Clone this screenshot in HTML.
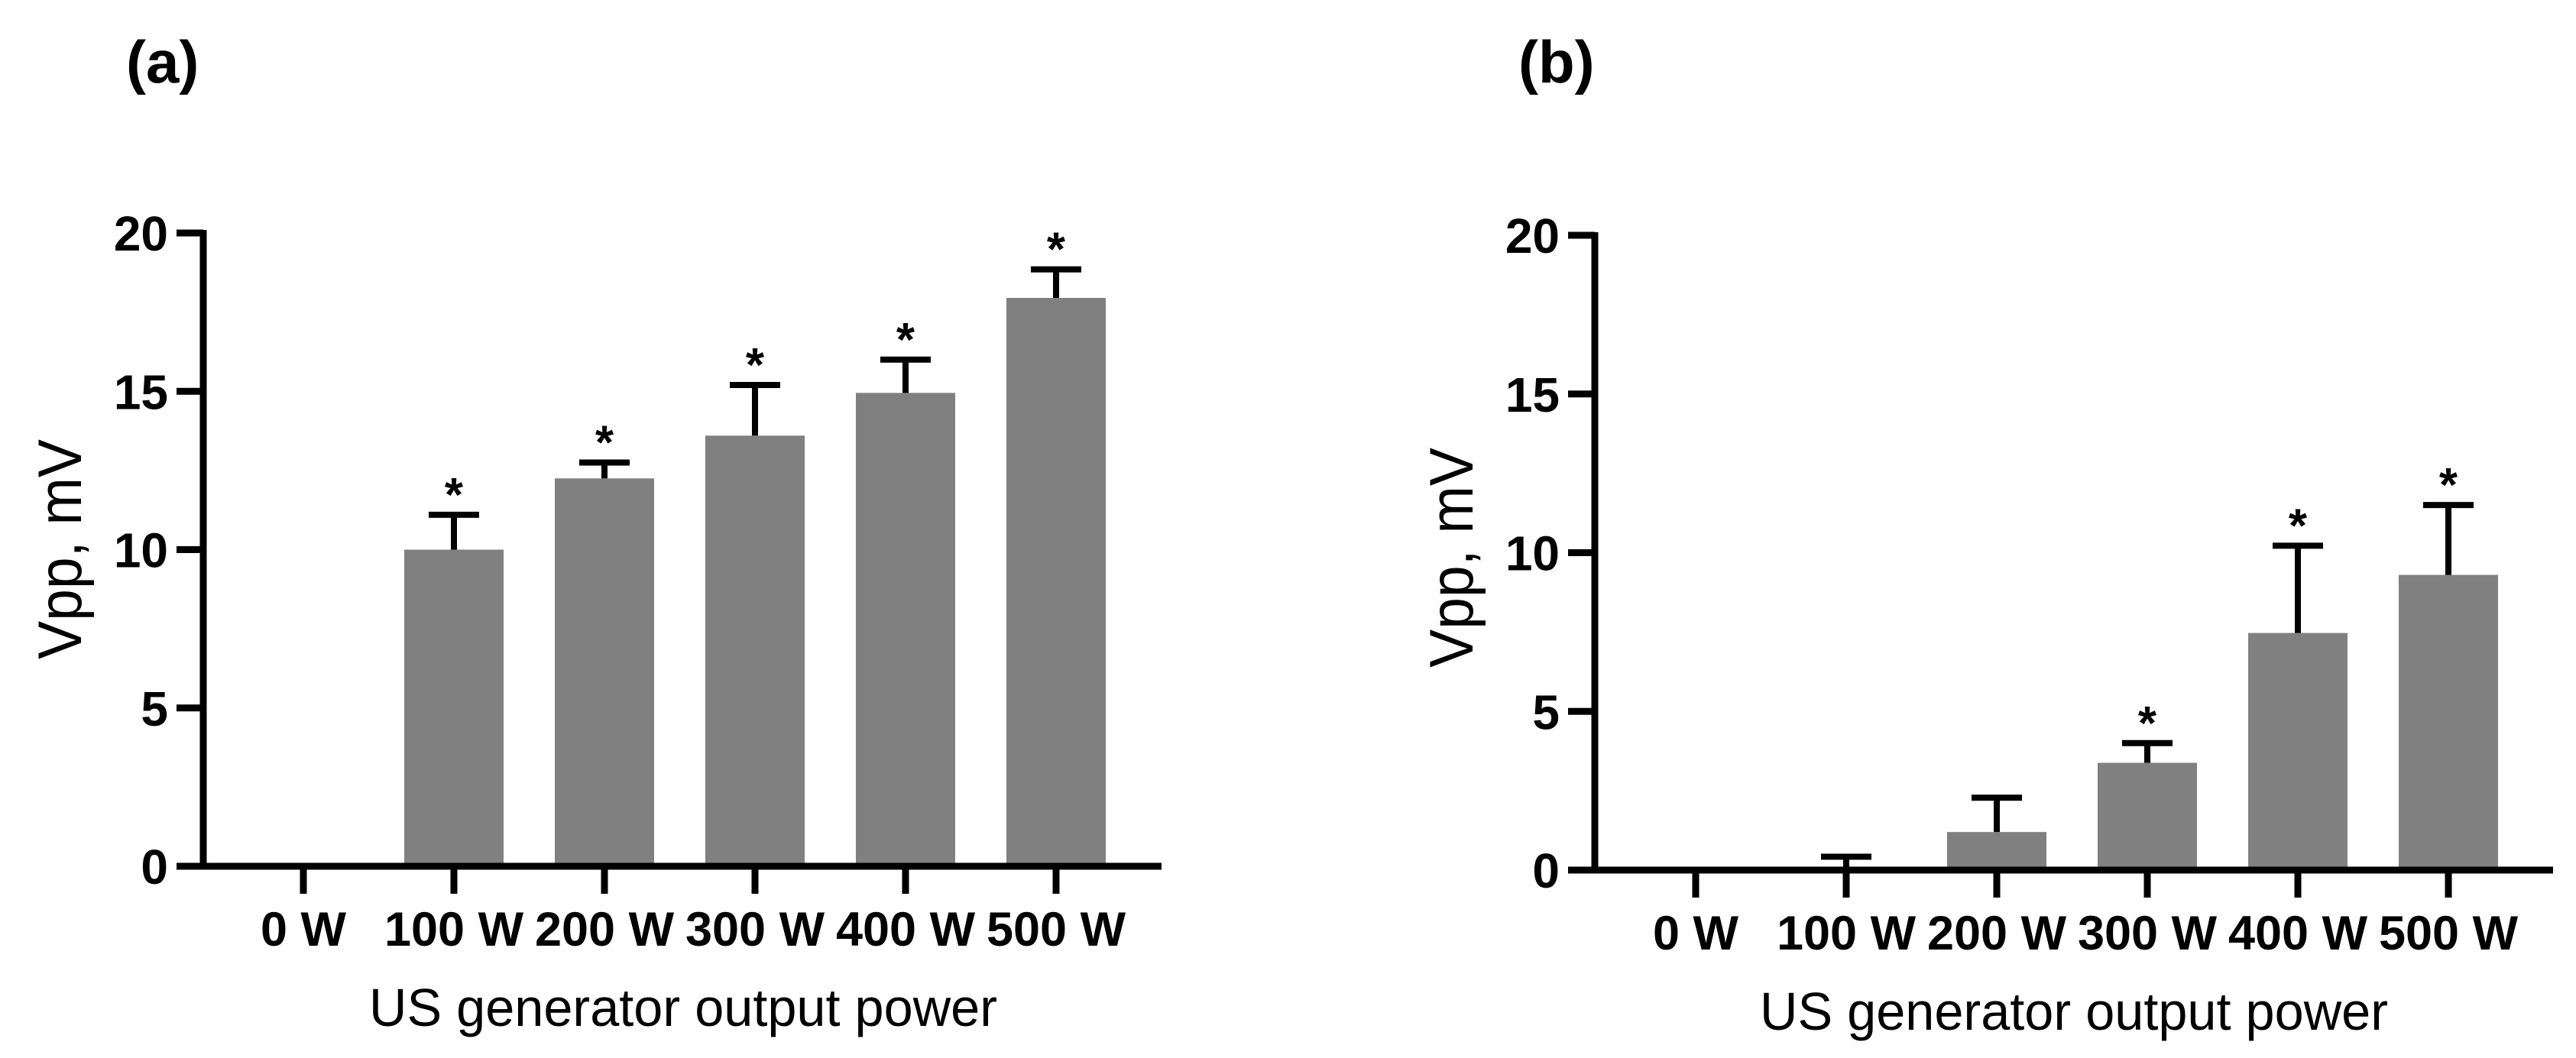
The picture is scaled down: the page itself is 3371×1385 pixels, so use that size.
<!DOCTYPE html>
<html><head><meta charset="utf-8"><style>
html,body{margin:0;padding:0;background:#fff;}
svg{display:block;font-family:"Liberation Sans",Arial,sans-serif;}
</style></head><body>
<svg id="fig" width="3371" height="1385" viewBox="0 0 3371 1385" xmlns="http://www.w3.org/2000/svg"></svg>
<script>
const categories = ["0 W","100 W","200 W","300 W","400 W","500 W"];
const yTicks = [0,5,10,15,20];
const meansA = [0,10.0,12.25,13.6,14.95,17.95];
const errA   = [0,1.1,0.5,1.6,1.05,0.9];
const sigA   = [false,true,true,true,true,true];
const meansB = [0,0,1.2,3.38,7.47,9.3];
const errB   = [0,0.42,1.08,0.62,2.75,2.2];
const sigB   = [false,false,false,true,true,true];

const NS="http://www.w3.org/2000/svg";
const svg=document.getElementById('fig');
function mk(tag,attrs,parent){const e=document.createElementNS(NS,tag);for(const k in attrs)e.setAttribute(k,attrs[k]);(parent||svg).appendChild(e);return e;}

function panel(cfg){
  const g=mk('g',{});
  
  
  const y=v=>cfg.y0-(v/20)*(cfg.y0-cfg.y20);
  const x=i=>cfg.x0+i*197;
  const lab=mk('text',{x:cfg.labelX,y:108,'font-size':78,'font-weight':'bold',fill:'#000'},g);
  lab.textContent=cfg.label;
  
  
  cfg.means.forEach((m,i)=>{
    if(m>0){
      const r=mk('rect',{x:x(i)-65,y:y(m),width:130,height:cfg.y0-y(m),fill:'#808080'},g);
      
      
    }
    const top=m+cfg.err[i];
    if(cfg.err[i]>0){
      const eb=mk('path',{d:`M${x(i)} ${y(m)} V${y(top)} M${x(i)-33} ${y(top)} H${x(i)+33}`,stroke:'#000','stroke-width':8,fill:'none'},g);
      
      
    }
    if(cfg.sig[i]){
      const s=mk('text',{x:x(i),y:y(top)-5,'font-size':62,'font-weight':'bold','text-anchor':'middle',fill:'#000'},g);
      s.textContent='*';
      
      
    }
  });
  const ya=mk('path',{d:`M${cfg.ax} ${cfg.y20-4} V${cfg.y0+4}`,stroke:'#000','stroke-width':9,fill:'none'},g);
  
  
  const xa=mk('path',{d:`M${cfg.ax-35} ${cfg.y0} H${cfg.xEnd}`,stroke:'#000','stroke-width':9,fill:'none'},g);
  
  
  yTicks.forEach(t=>{
    mk('path',{d:`M${cfg.ax-35} ${y(t)} H${cfg.ax}`,stroke:'#000','stroke-width':9},g);
    const tl=mk('text',{x:cfg.ax-46,y:y(t)+23,'font-size':64,'font-weight':'bold','text-anchor':'end',fill:'#000'},g);
    tl.textContent=t;
    
    
  });
  categories.forEach((c,i)=>{
    mk('path',{d:`M${x(i)} ${cfg.y0} V${cfg.y0+36}`,stroke:'#000','stroke-width':9},g);
    const tl=mk('text',{x:x(i),y:cfg.y0+104,'font-size':63,'font-weight':'bold','text-anchor':'middle',fill:'#000'},g);
    tl.textContent=c;
    
    
  });
  const xt=mk('text',{x:cfg.xTitleX,y:cfg.y0+209,'font-size':70,fill:'#000',textLength:822,lengthAdjust:'spacingAndGlyphs'},g);
  xt.textContent='US generator output power';
  
  
  const yt=mk('text',{x:0,y:0,'font-size':81,fill:'#000','text-anchor':'middle',textLength:288,lengthAdjust:'spacingAndGlyphs',transform:`translate(${cfg.ax-160},${cfg.yTitleY}) rotate(-90)`},g);
  yt.textContent='Vpp, mV';
  
  
}
panel({name:'panel-a',label:'(a)',labelX:165,ax:266,x0:397,xEnd:1520,y0:1134,y20:305,means:meansA,err:errA,sig:sigA,xTitleX:483,yTitleY:719});
panel({name:'panel-b',label:'(b)',labelX:1987,ax:2087,x0:2219,xEnd:3341,y0:1139,y20:308,means:meansB,err:errB,sig:sigB,xTitleX:2303,yTitleY:730});
</script>
</body></html>
